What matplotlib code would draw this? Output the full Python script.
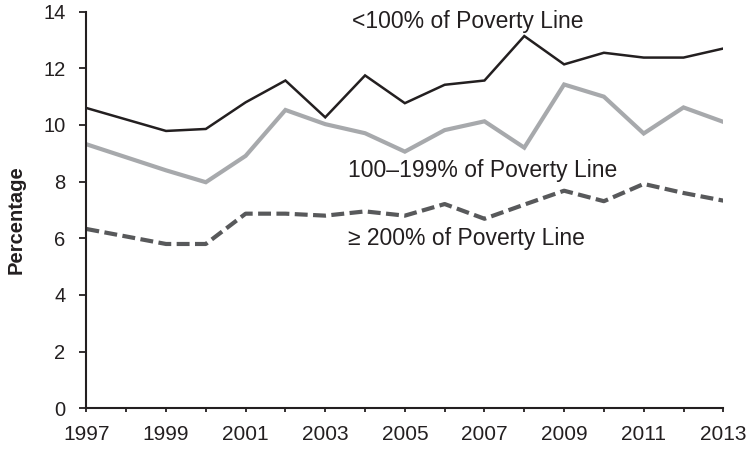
import matplotlib.pyplot as plt
import matplotlib.ticker as mticker
from matplotlib import font_manager

plt.rcParams['font.family'] = ['Liberation Sans', 'DejaVu Sans']

years = [1997, 1999, 2000, 2001, 2002, 2003, 2004, 2005,
         2006, 2007, 2008, 2009, 2010, 2011, 2012, 2013]
below100 = [10.60, 9.79, 9.86, 10.80, 11.57, 10.27, 11.75, 10.77,
            11.42, 11.57, 13.14, 12.14, 12.55, 12.38, 12.38, 12.70]
pct100_199 = [9.32, 8.40, 7.98, 8.91, 10.53, 10.03, 9.71, 9.06,
              9.82, 10.13, 9.20, 11.43, 11.00, 9.70, 10.62, 10.11]
above200 = [6.33, 5.80, 5.80, 6.87, 6.87, 6.80, 6.95, 6.80,
            7.21, 6.69, 7.19, 7.68, 7.31, 7.92, 7.60, 7.33]

labels = ['<100% of Poverty Line', '100\u2013199% of Poverty Line',
          '\u2265 200% of Poverty Line']
xtick_years = [1997, 1999, 2001, 2003, 2005, 2007, 2009, 2011, 2013]

# narrow font for the year labels if there is one
try:
    font_manager.findfont(font_manager.FontProperties(family='Liberation Sans Narrow'),
                          fallback_to_default=False)
    year_font, year_size = 'Liberation Sans Narrow', 18
except Exception:
    year_font, year_size = 'Liberation Sans', 15

ink = '#231f20'

fig = plt.figure(figsize=(7.48, 4.51), dpi=100)
ax = fig.add_axes([0.1155, 0.0947, 0.8515, 0.8794])

ax.plot(years, below100, color=ink, lw=1.8, solid_joinstyle='miter')
ax.plot(years, pct100_199, color='#a7a9ac', lw=3.0, solid_joinstyle='miter')
ax.plot(years, above200, color='#58595b', lw=3.0, dashes=(3.1, 1.3))

ax.text(2003.67, 13.41, labels[0], fontsize=16.5, ha='left', va='baseline', color=ink)
ax.text(2003.58, 8.18, labels[1], fontsize=16.5, ha='left', va='baseline', color=ink)
ax.text(2003.58, 5.76, labels[2], fontsize=16.5, ha='left', va='baseline', color=ink)

ax.set_xlim(1997, 2013)
ax.set_ylim(0, 14)
ax.xaxis.set_major_locator(mticker.FixedLocator(xtick_years))
ax.xaxis.set_minor_locator(mticker.MultipleLocator(1))
ax.yaxis.set_major_locator(mticker.MultipleLocator(2))
ax.tick_params(axis='x', which='both', direction='out', length=3, width=1.3, color=ink, pad=9)
ax.tick_params(axis='y', direction='out', length=5, width=1.3, color=ink, pad=10,
               labelsize=14.5, labelcolor=ink)
for lab in ax.get_xticklabels():
    lab.set_family(year_font)
    lab.set_fontsize(year_size)
    lab.set_color(ink)

for s in ['top', 'right']:
    ax.spines[s].set_visible(False)
for s in ['left', 'bottom']:
    ax.spines[s].set_linewidth(1.5)
    ax.spines[s].set_color(ink)

fig.text(16 / 748, 1 - 219.5 / 451, 'Percentage', rotation=90, fontsize=14.5,
         fontweight='bold', color=ink, ha='center', va='center')

fig.savefig('out.png', dpi=100)
